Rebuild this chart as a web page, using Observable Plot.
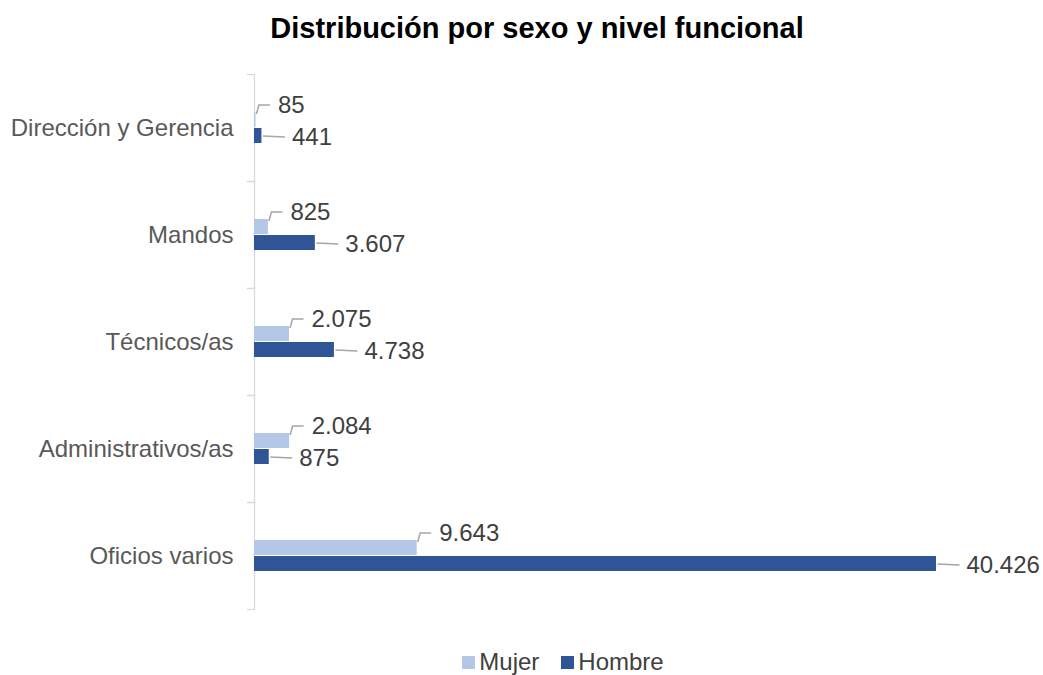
<!DOCTYPE html>
<html>
<head>
<meta charset="utf-8">
<script src="https://cdn.jsdelivr.net/npm/d3@7"></script>
<script src="https://cdn.jsdelivr.net/npm/@observablehq/plot@0.6"></script>
<style>
  html, body { margin: 0; padding: 0; background: #fff; }
  body { width: 1043px; height: 675px; overflow: hidden; font-family: "Liberation Sans", Arial, sans-serif; }
  #title { height: 56px; line-height: 56px; text-align: center; font-weight: bold; font-size: 29px; color: #000; padding-left: 31px; box-sizing: border-box; }
  #legend { height: 42px; display: flex; justify-content: center; align-items: center; font-size: 24px; color: #404040; padding-left: 83px; box-sizing: border-box; }
  .item { display: flex; align-items: center; margin: 0 11px; }
  .sw { width: 13px; height: 13px; margin-right: 4px; }
</style>
</head>
<body>
<div id="title">Distribución por sexo y nivel funcional</div>
<div id="chart"></div>
<div id="legend"></div>
<script>
const categories = ["Dirección y Gerencia", "Mandos", "Técnicos/as", "Administrativos/as", "Oficios varios"];
const series = ["Mujer", "Hombre"];
const mujer = [85, 825, 2075, 2084, 9643];
const hombre = [441, 3607, 4738, 875, 40426];
const colors = ["#b4c7e7", "#2f5597"];

const data = [];
categories.forEach((c, i) => {
  data.push({cat: c, sex: "Mujer", value: mujer[i]});
  data.push({cat: c, sex: "Hombre", value: hombre[i]});
});
const dataM = data.filter(d => d.sex === "Mujer");
const dataH = data.filter(d => d.sex === "Hombre");

const fmt = d3.formatLocale({decimal: ",", thousands: ".", grouping: [3], currency: ["", "€"]}).format(",d");

const W = 1043, H = 585, ML = 254, MR = 107, MT = 16, MB = 31;
const innerW = W - ML - MR;

// Leader lines drawn inside the text group, which is already translated by (dx, dy).
function leader(kind, dx, dy) {
  return (index, scales, values, dimensions, context, next) => {
    const g = next(index, scales, values, dimensions, context);
    const X = values.x, Y = values.y;
    const ns = "http://www.w3.org/2000/svg";
    for (const i of index) {
      const xe = X[i] - dx, yc = Y[i] - dy;   // bar end / bar centre in group coordinates
      const lx = X[i], ly = Y[i];             // label anchor in group coordinates
      const p = document.createElementNS(ns, "path");
      let dpath;
      if (kind === "M") dpath = `M${xe + 0.5},${yc - 6}L${lx - 19},${ly}L${lx - 8},${ly}`;
      else dpath = `M${xe + 1},${yc}L${lx - 7},${ly}`;
      p.setAttribute("d", dpath);
      p.setAttribute("fill", "none");
      p.setAttribute("stroke", "#a6a6a6");
      p.setAttribute("stroke-width", "1.5");
      g.insertBefore(p, g.firstChild);
    }
    return g;
  };
}

const chart = Plot.plot({
  width: W, height: H,
  marginLeft: ML, marginRight: MR, marginTop: MT, marginBottom: MB,
  style: {fontFamily: "'Liberation Sans', Arial, sans-serif", background: "#fff"},
  x: {domain: [0, d3.max(hombre.concat(mujer))], axis: null},
  y: {domain: series, paddingInner: 0.09, paddingOuter: 2.3, axis: null},
  fy: {domain: categories, padding: 0, label: null, axis: null},
  color: {domain: series, range: colors},
  marks: [
    Plot.frame({anchor: "top", stroke: "#d9d9d9", strokeWidth: 1.3, insetLeft: -7, insetRight: innerW}),
    Plot.frame({anchor: "bottom", stroke: "#d9d9d9", strokeWidth: 1.3, insetLeft: -7, insetRight: innerW}),
    Plot.ruleX([0], {stroke: "#d9d9d9", strokeWidth: 1.3}),
    Plot.axisFy({anchor: "left", tickSize: 0, tickPadding: 21, fontSize: 24, fill: "#595959", label: null}),
    Plot.barX(data, {fy: "cat", y: "sex", x: "value", fill: "sex"}),
    Plot.text(dataM, {fy: "cat", y: "sex", x: "value", text: d => fmt(d.value), dx: 22, dy: -15,
      textAnchor: "start", fontSize: 24, fill: "#404040", render: leader("M", 22, -15)}),
    Plot.text(dataH, {fy: "cat", y: "sex", x: "value", text: d => fmt(d.value), dx: 30, dy: 1,
      textAnchor: "start", fontSize: 24, fill: "#404040", render: leader("H", 30, 1)})
  ]
});
document.getElementById("chart").appendChild(chart);

const legend = document.getElementById("legend");
series.forEach((s, i) => {
  const item = document.createElement("div");
  item.className = "item";
  const sw = document.createElement("div");
  sw.className = "sw";
  sw.style.background = colors[i];
  const t = document.createElement("span");
  t.textContent = s;
  item.appendChild(sw);
  item.appendChild(t);
  legend.appendChild(item);
});
</script>
</body>
</html>
